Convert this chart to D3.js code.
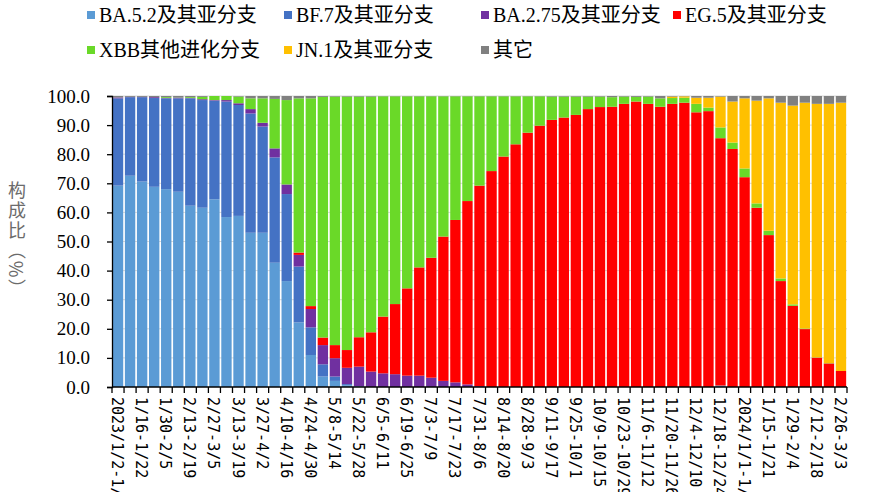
<!DOCTYPE html>
<html><head><meta charset="utf-8">
<script src="https://cdn.jsdelivr.net/npm/d3@7"></script>
<style>
html,body{margin:0;padding:0;background:#fff;}
svg{display:block;}
</style></head>
<body><svg id="chart" width="870" height="492"></svg>
<script>
const categories = ["2023/1/2-1/8","1/9-1/15","1/16-1/22","1/23-1/29","1/30-2/5","2/6-2/12","2/13-2/19","2/20-2/26","2/27-3/5","3/6-3/12",
"3/13-3/19","3/20-3/26","3/27-4/2","4/3-4/9","4/10-4/16","4/17-4/23","4/24-4/30","5/1-5/7","5/8-5/14","5/15-5/21",
"5/22-5/28","5/29-6/4","6/5-6/11","6/12-6/18","6/19-6/25","6/26-7/2","7/3-7/9","7/10-7/16","7/17-7/23","7/24-7/30",
"7/31-8/6","8/7-8/13","8/14-8/20","8/21-8/27","8/28-9/3","9/4-9/10","9/11-9/17","9/18-9/24","9/25-10/1","10/2-10/8",
"10/9-10/15","10/16-10/22","10/23-10/29","10/30-11/5","11/6-11/12","11/13-11/19","11/20-11/26","11/27-12/3","12/4-12/10","12/11-12/17",
"12/18-12/24","12/25-12/31","2024/1/1-1/7","1/8-1/14","1/15-1/21","1/22-1/28","1/29-2/4","2/5-2/11","2/12-2/18","2/19-2/25",
"2/26-3/3"];

const ba52 = [69.2,72.6,70.6,68.8,68.0,67.1,62.3,61.6,64.5,58.4, 58.8,53.0,53.0,42.7,36.4,22.2,11.0,3.6,2.1,0.6,
0.3,0,0,0,0,0,0,0,0,0, 0,0,0,0,0,0,0,0,0,0, 0,0,0,0,0,0,0,0,0,0, 0.5,0,0,0,0,0,0,0,0,0, 0];
const bf7 = [30.0,27.0,29.0,30.5,31.2,32.1,36.9,37.0,33.9,39.7, 38.1,41.0,36.5,36.2,29.9,19.2,9.5,4.2,1.5,0.4,
0,0,0,0,0,0,0,0,0,0, 0,0,0,0,0,0,0,0,0,0, 0,0,0,0,0,0,0,0,0,0, 0,0,0,0,0,0,0,0,0,0, 0];
const ba275 = [0.3,0.1,0.1,0.3,0.1,0.3,0.1,0.3,0.2,0.5, 0.6,1.5,1.3,3.1,3.3,4.0,6.3,6.6,6.3,5.6,
6.7,5.3,4.7,4.4,3.9,3.9,3.2,2.1,1.6,0.9, 0.3,0,0,0,0,0,0,0,0,0, 0,0,0,0,0,0,0,0,0,0, 0,0,0,0,0,0,0,0,0,0, 0];
const eg5 = [0,0,0,0,0,0,0,0,0,0, 0,0,0,0,0,0.8,1.0,2.6,4.5,6.1,
10.1,13.5,19.5,24.1,30.0,37.2,41.2,49.6,55.8,63.0, 68.9,74.2,79.2,83.4,87.4,89.8,91.8,92.6,93.5,95.5,
96.2,96.3,97.3,98.1,97.3,96.3,97.3,97.7,94.4,94.8, 85.0,81.8,72.1,61.6,52.2,36.4,27.9,19.9,10.1,8.1, 5.5];
const xbb = [0,0,0,0,0.3,0.1,0.3,0.8,1.4,1.4, 2.3,3.7,8.4,17.0,29.0,53.0,71.4,82.7,85.4,87.1,
82.7,81.0,75.7,71.4,66.0,58.8,55.5,48.2,42.5,36.0, 30.7,25.7,20.7,16.5,12.5,10.1,8.0,7.2,6.3,4.3,
3.6,3.3,2.5,1.6,2.5,2.9,2.0,1.7,2.9,1.2, 3.7,2.2,3.0,1.5,1.5,0.9,0.5,0.2,0.1,0.1, 0];
const jn1 = [0,0,0,0,0,0,0,0,0,0, 0,0,0,0,0,0,0,0,0,0, 0,0,0,0,0,0,0,0,0,0, 0,0,0,0,0,0,0,0,0,0,
0,0,0,0,0,0,0.5,0.5,2.1,3.4, 10.6,14.1,24.1,35.3,45.5,60.4,68.3,77.6,87.1,89.1, 92.2];
const other = [0.5,0.3,0.3,0.4,0.4,0.4,0.4,0.3,0,0, 0.2,0.8,0.8,1.0,1.4,0.8,0.8,0.3,0.2,0.2,
0.2,0.2,0.1,0.1,0.1,0.1,0.1,0.1,0.1,0.1, 0.1,0.1,0.1,0.1,0.1,0.1,0.2,0.2,0.2,0.2,
0.2,0.4,0.2,0.3,0.2,0.8,0.2,0.1,0.6,0.6, 0.2,1.9,0.8,1.6,0.8,2.3,3.3,2.3,2.7,2.7, 2.3];

const seriesNames = ["BA.5.2及其亚分支","BF.7及其亚分支","BA.2.75及其亚分支","EG.5及其亚分支","XBB其他进化分支","JN.1及其亚分支","其它"];
const seriesColors = ["#5B9BD5","#4472C4","#7030A0","#FF0000","#6AD928","#FFC000","#808080"];
const yTicks = [0,10,20,30,40,50,60,70,80,90,100];
const yTitle = "构成比（%）";

const seriesData = [ba52,bf7,ba275,eg5,xbb,jn1,other];
const rows = categories.map((c,i)=>{
  const r = {cat:c};
  seriesNames.forEach((n,k)=>{ r[n] = seriesData[k][i]; });
  return r;
});

const svg = d3.select("#chart");
const L = 112, R = 847, T = 96, B = 387;
const x = d3.scaleBand().domain(categories).range([L,R]).paddingInner(0.14).paddingOuter(0.07);
const y = d3.scaleLinear().domain([0,100]).range([B,T]);

// gridlines
svg.append("g").selectAll("line").data(yTicks.filter(v=>v>0)).join("line")
  .attr("x1",L).attr("x2",R).attr("y1",d=>y(d)).attr("y2",d=>y(d))
  .attr("stroke","#d9d9d9").attr("stroke-width",1);

const stack = d3.stack().keys(seriesNames)(rows);
const color = d3.scaleOrdinal().domain(seriesNames).range(seriesColors);

svg.append("g").selectAll("g").data(stack).join("g")
  .attr("fill",d=>color(d.key))
  .selectAll("rect").data(d=>d).join("rect")
  .attr("x",d=>x(d.data.cat))
  .attr("width",x.bandwidth())
  .attr("y",d=>y(d[1]))
  .attr("height",d=>Math.max(0,y(d[0])-y(d[1])));

// y axis
const yAxis = svg.append("g").attr("transform",`translate(${L},0)`)
  .call(d3.axisLeft(y).tickValues(yTicks).tickSize(5).tickPadding(17).tickFormat(d3.format(".1f")));
yAxis.select(".domain").attr("stroke","#000").attr("stroke-width",1.3);
yAxis.selectAll(".tick line").attr("stroke","#000").attr("stroke-width",1.3);
yAxis.selectAll("text").attr("font-family","'Liberation Serif','Times New Roman',serif")
  .attr("font-size",19).attr("fill","#000");

// x axis: boundary ticks
const step = x.step();
const bounds = categories.map(c=>x(c) - step*x.paddingInner()/2).concat([R]);
svg.append("g").selectAll("line").data(bounds).join("line")
  .attr("x1",d=>d).attr("x2",d=>d).attr("y1",B).attr("y2",B+6)
  .attr("stroke","#000").attr("stroke-width",1.3);
svg.append("line").attr("x1",L).attr("x2",R).attr("y1",B).attr("y2",B)
  .attr("stroke","#000").attr("stroke-width",1.6);

// x labels via axis
const xAxis = svg.append("g").attr("transform",`translate(0,${B})`)
  .call(d3.axisBottom(x).tickValues(categories.filter((c,i)=>i%2===0)).tickSize(0).tickPadding(0));
xAxis.select(".domain").remove();
xAxis.selectAll(".tick text")
  .attr("transform","translate(-1,10) rotate(90)")
  .attr("text-anchor","start")
  .attr("x",0).attr("y",0).attr("dy",null)
  .attr("dominant-baseline","central")
  .attr("font-family","'DejaVu Sans Mono',monospace")
  .attr("font-size",15).attr("fill","#000");

// y title
svg.append("text").attr("x",17).attr("y",240)
  .attr("text-anchor","middle")
  .style("writing-mode","vertical-rl")
  .style("letter-spacing","2px")
  .attr("font-family","'Noto Sans CJK SC',sans-serif")
  .attr("font-size",18).attr("fill","#6b6b6b")
  .text(yTitle);

// legend
const legendPos = [[87,15],[284,15],[481,15],[673,15],[87,50],[284,50],[481,50]];
const lg = svg.append("g").selectAll("g").data(seriesNames).join("g")
  .attr("transform",(d,i)=>`translate(${legendPos[i][0]},${legendPos[i][1]})`);
lg.append("rect").attr("x",0).attr("y",-4).attr("width",8).attr("height",8).attr("fill",d=>color(d));
lg.append("text").attr("x",12).attr("y",0).attr("dominant-baseline","central")
  .attr("font-family","'Liberation Serif','Noto Sans CJK SC',serif")
  .attr("font-size",20).attr("fill","#000").text(d=>d);
</script>
</body></html>
